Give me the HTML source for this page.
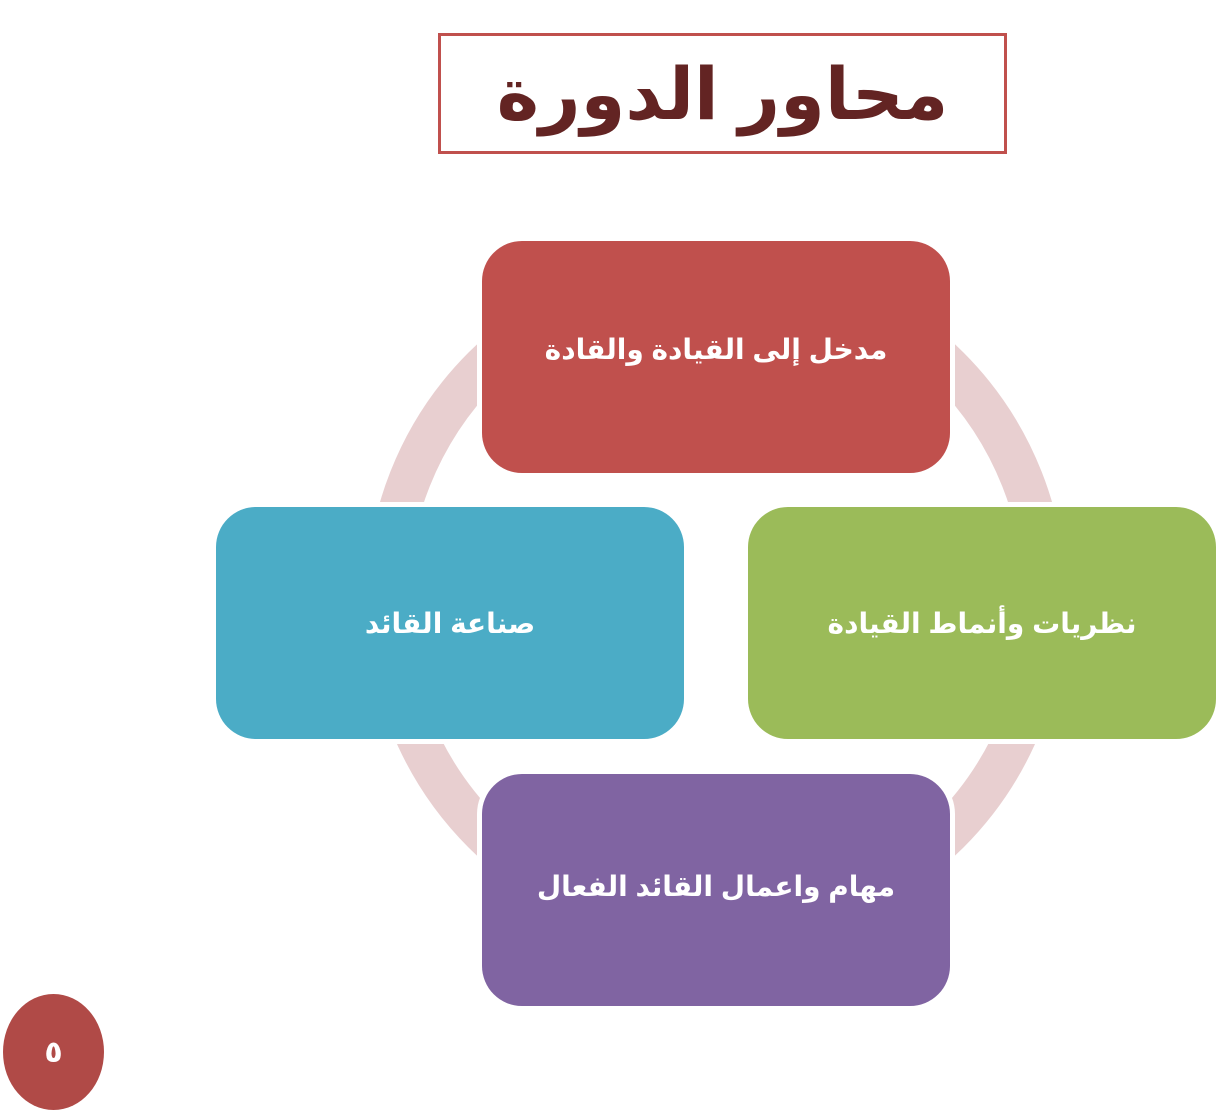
<!DOCTYPE html>
<html><head><meta charset="utf-8"><style>
body{margin:0;width:1221px;height:1113px;background:#fff;position:relative;overflow:hidden;font-family:"Liberation Sans","DejaVu Sans",sans-serif}
.t{position:absolute;left:438px;top:33px;width:563px;height:115px;border:3px solid #c0504d;display:flex;align-items:center;justify-content:center;font-size:72px;font-weight:bold;color:#632423;direction:rtl}
.b{position:absolute;width:468px;height:232px;border-radius:40px;box-shadow:0 0 0 5px #fff;display:flex;align-items:center;justify-content:center;color:#fff;font-weight:bold;font-size:28px;direction:rtl}
.p{position:absolute;left:3px;top:994px;width:101px;height:116px;border-radius:50%;background:#b04a47;color:#fff;display:flex;align-items:center;justify-content:center;font-size:30px;font-weight:bold}
</style></head><body>
<div class="t">محاور الدورة</div>
<svg style="position:absolute;left:0;top:0" width="1221" height="1113"><circle cx="716" cy="600" r="329" fill="none" stroke="#e8cfd0" stroke-width="42"/></svg>
<div class="b" style="left:482px;top:241px;background:#c0504d;padding-bottom:10px;box-sizing:border-box;align-items:flex-start;padding-top:92px">مدخل إلى القيادة والقادة</div>
<div class="b" style="left:216px;top:507px;background:#4bacc6">صناعة القائد</div>
<div class="b" style="left:748px;top:507px;background:#9bbb59">نظريات وأنماط القيادة</div>
<div class="b" style="left:482px;top:774px;background:#8064a2;align-items:flex-start;padding-top:96px;box-sizing:border-box">مهام واعمال القائد الفعال</div>
<div class="p">٥</div>
</body></html>
